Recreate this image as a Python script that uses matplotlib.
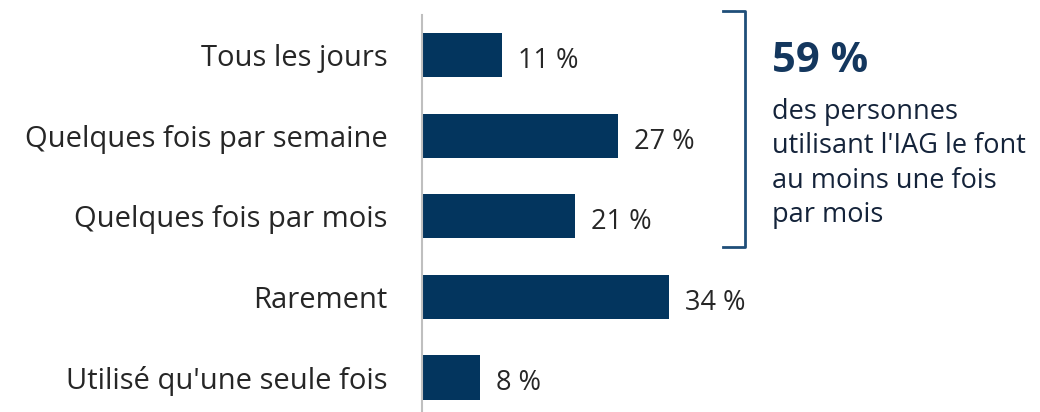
import matplotlib.pyplot as plt
from matplotlib.lines import Line2D

# data
categories = ['Tous les jours', 'Quelques fois par semaine', 'Quelques fois par mois',
              'Rarement', "Utilisé qu'une seule fois"]
values = [11, 27, 21, 34, 8]
summary_value = '59 %'
summary_text = "des personnes\nutilisant l'IAG le font\nau moins une fois\npar mois"

bar_color = '#03355e'
text_color = '#262626'
plt.rcParams['font.family'] = ['Open Sans', 'DejaVu Sans']

W, H = 1040, 412
fig = plt.figure(figsize=(W / 100, H / 100), dpi=100)
ax = fig.add_axes([422 / W, 0, 1 - 422 / W, (H - 15) / H])

pos = list(range(len(categories)))
ax.barh(pos, values, height=0.55, color=bar_color)
ax.set_ylim(4.43, -0.5)
ax.set_xlim(0, 85)

for p, v in zip(pos, values):
    ax.text(v + 2.2, p + 0.16, f'{v} %', va='baseline', ha='left', fontsize=19.5, color=text_color)

ax.set_yticks(pos)
ax.set_yticklabels(categories, fontsize=21, color=text_color)
ax.tick_params(axis='y', length=0, pad=25)
ax.set_xticks([])
for s in ['top', 'right', 'bottom']:
    ax.spines[s].set_visible(False)
ax.spines['left'].set_color('#bfbfbf')
ax.spines['left'].set_linewidth(1.5)

# bracket
bc = '#1f4e79'
def fx(x): return x / W
def fy(y): return 1 - y / H
fig.add_artist(Line2D([fx(723), fx(745), fx(745), fx(723)],
                      [fy(11), fy(11), fy(247), fy(247)], color=bc, lw=2))

fig.text(fx(772), fy(72), summary_value, fontsize=30, fontweight='bold',
         color='#14375e', ha='left', va='baseline')
fig.text(fx(772), fy(98), summary_text, fontsize=19.5, color='#14233a',
         ha='left', va='top', linespacing=1.3)

fig.savefig('out.png', dpi=100)
